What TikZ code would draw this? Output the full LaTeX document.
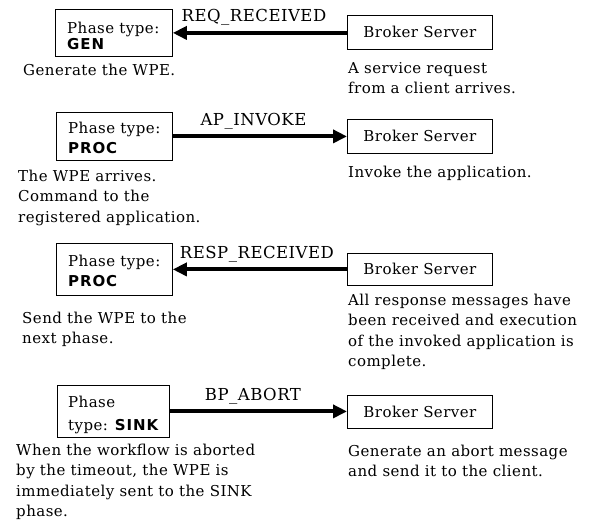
\documentclass[tikz,border=0pt]{standalone}
\usepackage{fontspec}
\setmainfont{DejaVu Serif}[LetterSpace=3]
\setsansfont{DejaVu Sans}[LetterSpace=6]
\usetikzlibrary{arrows.meta,positioning}
\newcommand{\kind}[1]{{\sffamily\bfseries #1}}
\newcommand{\lines}[1]{\begin{tabular}[t]{@{}l@{}}#1\end{tabular}}
\tikzset{
  phasebox/.style={draw, line width=0.8pt, inner sep=0pt, anchor=north west},
  brokerbox/.style={draw, line width=0.8pt, minimum width=145pt, inner sep=0pt, anchor=north west},
  note/.style={anchor=base west, inner sep=0pt},
  msg/.style={line width=4pt, -{Triangle[length=14pt,width=13pt]}},
  msglabel/.style={anchor=base, yshift=11pt, inner sep=0pt, font=\fontsize{16.5}{20}\selectfont}
}
\begin{document}
\begin{tikzpicture}[x=1pt, y=-1pt, every node/.style={font=\fontsize{15}{20.5}\selectfont}]
\useasboundingbox (0,0) rectangle (589,530);
% request arrives
\node[phasebox, minimum width=117pt, minimum height=47pt] (gen) at (55,9) {};
\node[note] (gentext) at (67,34) {\lines{Phase type:\\[-4.5pt]\kind{GEN}}};
\node[brokerbox, minimum height=34pt] (bs1) at (347,15) {Broker Server};
\draw[msg] (gen.east -| bs1.west) -- (gen.east) node[msglabel, pos=0.534] {REQ\_RECEIVED};
\node[note] (gennote) at (23,75) {Generate the WPE.};
\node[note] (bs1note) at (348,73) {\lines{A service request\\from a client arrives.}};
% invoke
\node[phasebox, minimum width=116pt, minimum height=48pt] (proc1) at (56,112) {};
\node[note] (proc1text) at (68,133) {\lines{Phase type:\\\kind{PROC}}};
\node[brokerbox, minimum height=34pt] (bs2) at (347,119) {Broker Server};
\draw[msg] (proc1.east) -- (proc1.east -| bs2.west) node[msglabel, pos=0.463] {AP\_INVOKE};
\node[note] (proc1note) at (18,181) {\lines{The WPE arrives.\\Command to the\\registered application.}};
\node[note] (bs2note) at (348,177) {Invoke the application.};
% responses
\node[phasebox, minimum width=116pt, minimum height=52pt] (proc2) at (56,243) {};
\node[note] (proc2text) at (68,266) {\lines{Phase type:\\\kind{PROC}}};
\node[brokerbox, minimum height=32pt] (bs3) at (347,253) {Broker Server};
\draw[msg] (proc2.east -| bs3.west) -- (proc2.east) node[msglabel, pos=0.517] {RESP\_RECEIVED};
\node[note] (proc2note) at (22,323) {\lines{Send the WPE to the\\next phase.}};
\node[note] (bs3note) at (348,305) {\lines{All response messages have\\been received and execution\\of the invoked application is\\complete.}};
% abort
\node[phasebox, minimum width=112pt, minimum height=52pt] (sink) at (57,385) {};
\node[note] (sinktext) at (68,407) {\lines{Phase\\[2.5pt]type: \kind{SINK}}};
\node[brokerbox, minimum height=33pt] (bs4) at (347,395) {Broker Server};
\draw[msg] (sink.east) -- (sink.east -| bs4.west) node[msglabel, pos=0.469] {BP\_ABORT};
\node[note] (sinknote) at (16,455) {\lines{When the workflow is aborted\\by the timeout, the WPE is\\immediately sent to the SINK\\phase.}};
\node[note] (bs4note) at (348,456) {\lines{Generate an abort message\\and send it to the client.}};
\end{tikzpicture}
\end{document}
